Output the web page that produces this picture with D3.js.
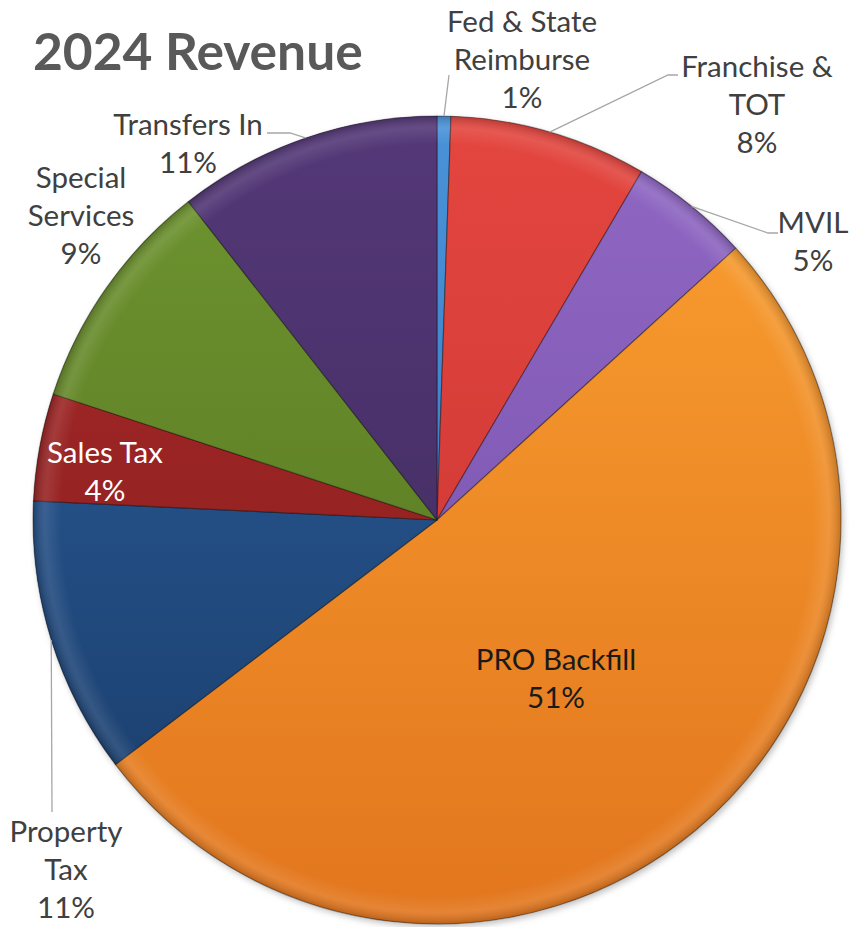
<!DOCTYPE html>
<html>
<head>
<meta charset="utf-8">
<script src="https://cdn.jsdelivr.net/npm/d3@7"></script>
<style>
  html, body { margin: 0; padding: 0; background: #ffffff; }
  svg { display: block; }
</style>
</head>
<body>
<svg id="chart" width="852" height="927"></svg>
<script>
// ---- data ----
const categories = ["Fed & State Reimburse", "Franchise & TOT", "MVIL", "PRO Backfill",
                    "Property Tax", "Sales Tax", "Special Services", "Transfers In"];
const values = [0.55, 7.9, 4.8, 51.4, 11.1, 4.3, 9.4, 10.55];
const labelLines = [["Fed & State", "Reimburse"], ["Franchise &", "TOT"], ["MVIL"], ["PRO Backfill"],
                    ["Property", "Tax"], ["Sales Tax"], ["Special", "Services"], ["Transfers In"]];
const title = "2024 Revenue";

// ---- styling / layout (not data) ----
const colorsTop    = ["#4a92d8", "#e4463f", "#9068c4", "#faa030", "#2e62a2", "#aa2a2a", "#6f9530", "#543878"];
const colorsBottom = ["#2f72b8", "#c53230", "#744ea8", "#e2761e", "#183a66", "#821b1b", "#52701e", "#3c2858"];
const textColors   = ["#404040", "#404040", "#404040", "#1a1a1a", "#404040", "#ffffff", "#404040", "#404040"];
// label anchor (center x, first baseline y) and leader-line end points
const labelPos = [[522, 32], [757, 77], [813, 233], [556, 670], [66, 842], [105, 463], [81, 188], [188, 135]];
const leaders = [
  [[449, 75]],
  [[668, 75], [678, 75]],
  [[768, 233], [778, 233]],
  null,
  [[52, 812]],
  null,
  null,
  [[290, 133], [267, 133]]
];

const cx = 437, cy = 520, R = 404;
const svg = d3.select("#chart");
const defs = svg.append("defs");

const filt = defs.append("filter").attr("id", "shadow")
  .attr("x", "-10%").attr("y", "-10%").attr("width", "120%").attr("height", "120%");
filt.append("feDropShadow").attr("dx", 2).attr("dy", 3).attr("stdDeviation", 3)
  .attr("flood-color", "#000").attr("flood-opacity", 0.25);

categories.forEach((c, i) => {
  const gr = defs.append("linearGradient").attr("id", "grad" + i)
    .attr("gradientUnits", "userSpaceOnUse")
    .attr("x1", 0).attr("y1", -R).attr("x2", 0).attr("y2", R);
  gr.append("stop").attr("offset", "0%").attr("stop-color", colorsTop[i]);
  gr.append("stop").attr("offset", "100%").attr("stop-color", colorsBottom[i]);
});

// rim shading gradient
const rg = defs.append("radialGradient").attr("id", "rim")
  .attr("gradientUnits", "userSpaceOnUse")
  .attr("cx", 0).attr("cy", 0).attr("r", R);
rg.append("stop").attr("offset", "93%").attr("stop-color", "#fff").attr("stop-opacity", 0);
rg.append("stop").attr("offset", "97%").attr("stop-color", "#fff").attr("stop-opacity", 0.10);
rg.append("stop").attr("offset", "100%").attr("stop-color", "#000").attr("stop-opacity", 0.18);

const pie = d3.pie().sort(null).value(d => d)(values);
const arc = d3.arc().innerRadius(0).outerRadius(R);
const arcOuter = d3.arc().innerRadius(R).outerRadius(R);

const g = svg.append("g").attr("transform", `translate(${cx},${cy})`);
g.append("circle").attr("r", R).attr("fill", "#888").attr("filter", "url(#shadow)");
g.selectAll("path.slice").data(pie).join("path")
  .attr("class", "slice")
  .attr("d", arc)
  .attr("fill", (d, i) => `url(#grad${i})`)
  .attr("stroke", "rgba(0,0,0,0.35)")
  .attr("stroke-width", 1.2)
  .attr("stroke-linejoin", "round");
g.append("circle").attr("r", R).attr("fill", "url(#rim)").attr("pointer-events", "none");

// leader lines
pie.forEach((d, i) => {
  if (!leaders[i]) return;
  const [sx, sy] = arcOuter.centroid(d);
  const pts = [[cx + sx, cy + sy]].concat(leaders[i]);
  svg.append("path")
    .attr("d", d3.line()(pts))
    .attr("fill", "none")
    .attr("stroke", "#a6a6a6")
    .attr("stroke-width", 1.3);
});

// title
svg.append("text")
  .attr("x", 33).attr("y", 70)
  .attr("font-family", "Lato, 'Open Sans', sans-serif")
  .attr("font-weight", 700)
  .attr("font-size", 51.5)
  .attr("fill", "#595959")
  .text(title);

// labels
const fmt = v => Math.round(v / d3.sum(values) * 100) + "%";
const lineH = 38;
pie.forEach((d, i) => {
  const lines = labelLines[i].concat([fmt(values[i])]);
  const t = svg.append("text")
    .attr("font-family", "Lato, 'Open Sans', sans-serif")
    .attr("font-size", 29.5)
    .attr("fill", textColors[i])
    .attr("text-anchor", "middle");
  lines.forEach((ln, k) => {
    t.append("tspan").attr("x", labelPos[i][0]).attr("y", labelPos[i][1] + k * lineH).text(ln);
  });
});
</script>
</body>
</html>
